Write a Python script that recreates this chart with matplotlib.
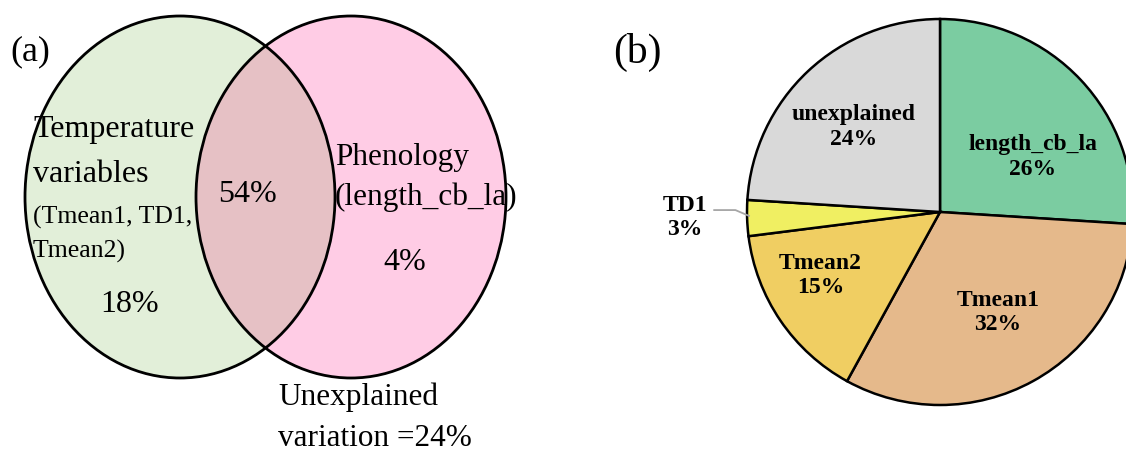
import matplotlib.pyplot as plt
from matplotlib.patches import Ellipse
import numpy as np

# ---- data ----
venn_only_left = 18
venn_shared = 54
venn_only_right = 4
venn_unexplained = 24

pie_names = ["length_cb_la", "Tmean1", "Tmean2", "TD1", "unexplained"]
pie_values = [26, 32, 15, 3, 24]
pie_colors = ["#7BCCA1", "#E5B98B", "#F0CE62", "#F0EF62", "#D9D9D9"]

serif = ["Liberation Serif", "DejaVu Serif"]

fig = plt.figure(figsize=(11.26, 4.53), dpi=100)

# ---- (a) venn, drawn in pixel coords ----
ax = fig.add_axes([0, 0, 1, 1])
ax.set_xlim(0, 1126)
ax.set_ylim(453, 0)
ax.axis("off")

w, h = 310, 362
left = Ellipse((180, 197), w, h, facecolor="#E2EFD9", edgecolor="none")
right = Ellipse((351, 197), w, h, facecolor="#FFCCE5", edgecolor="none")
ax.add_patch(left)
ax.add_patch(right)
lens = Ellipse((180, 197), w, h, facecolor="#E6C1C5", edgecolor="none")
ax.add_patch(lens)
lens.set_clip_path(right)
for c in [(180, 197), (351, 197)]:
    ax.add_patch(Ellipse(c, w, h, facecolor="none", edgecolor="black", lw=2))

ax.text(10, 52, "(a)", fontsize=26, family=serif, va="center", ha="left")
ax.text(33, 130, "Temperature", fontsize=23, family=serif, va="center")
ax.text(33, 175, "variables", fontsize=23, family=serif, va="center")
ax.text(33, 217, "(Tmean1, TD1,", fontsize=18.5, family=serif, va="center")
ax.text(33, 251, "Tmean2)", fontsize=18.5, family=serif, va="center")
ax.text(130, 305, f"{venn_only_left}%", fontsize=23, family=serif, ha="center", va="center")
ax.text(248, 195, f"{venn_shared}%", fontsize=23, family=serif, ha="center", va="center")
ax.text(335, 157, "Phenology", fontsize=22.5, family=serif, va="center")
ax.text(335, 197, "(length_cb_la)", fontsize=22.5, family=serif, va="center")
ax.text(405, 263, f"{venn_only_right}%", fontsize=23, family=serif, ha="center", va="center")
ax.text(278, 397, "Unexplained", fontsize=22.5, family=serif, va="center")
ax.text(278, 438, f"variation ={venn_unexplained}%", fontsize=22.5, family=serif, va="center")

# ---- (b) pie ----
fig.text(613 / 1126, 1 - 52 / 453, "(b)", fontsize=30, family=serif, va="center")

R = 193
cx, cy = 940, 212
pax = fig.add_axes([(cx - R) / 1126, (453 - cy - R) / 453, 2 * R / 1126, 2 * R / 453])
wedges, _ = pax.pie(pie_values, colors=pie_colors, startangle=90, counterclock=False,
                    wedgeprops=dict(edgecolor="black", linewidth=1.8))
pax.set_xlim(-1, 1)
pax.set_ylim(-1, 1)
pax.axis("off")

label_pos = [(0.48, 0.285), (0.30, -0.52), (-0.62, -0.33), (-1.32, -0.03), (-0.45, 0.44)]
for name, val, (x, y) in zip(pie_names, pie_values, label_pos):
    t = pax.text(x, y, f"{name}\n{val}%", fontsize=17, family=serif, weight="bold",
                 ha="center", va="center", linespacing=1.2)
    t.set_clip_on(False)

# leader line for the small TD1 slice
pax.plot([-1.17, -1.06, -0.99], [0.01, 0.01, -0.02], color="#A6A6A6", lw=1.3, clip_on=False)

fig.savefig("out.png", dpi=100)
